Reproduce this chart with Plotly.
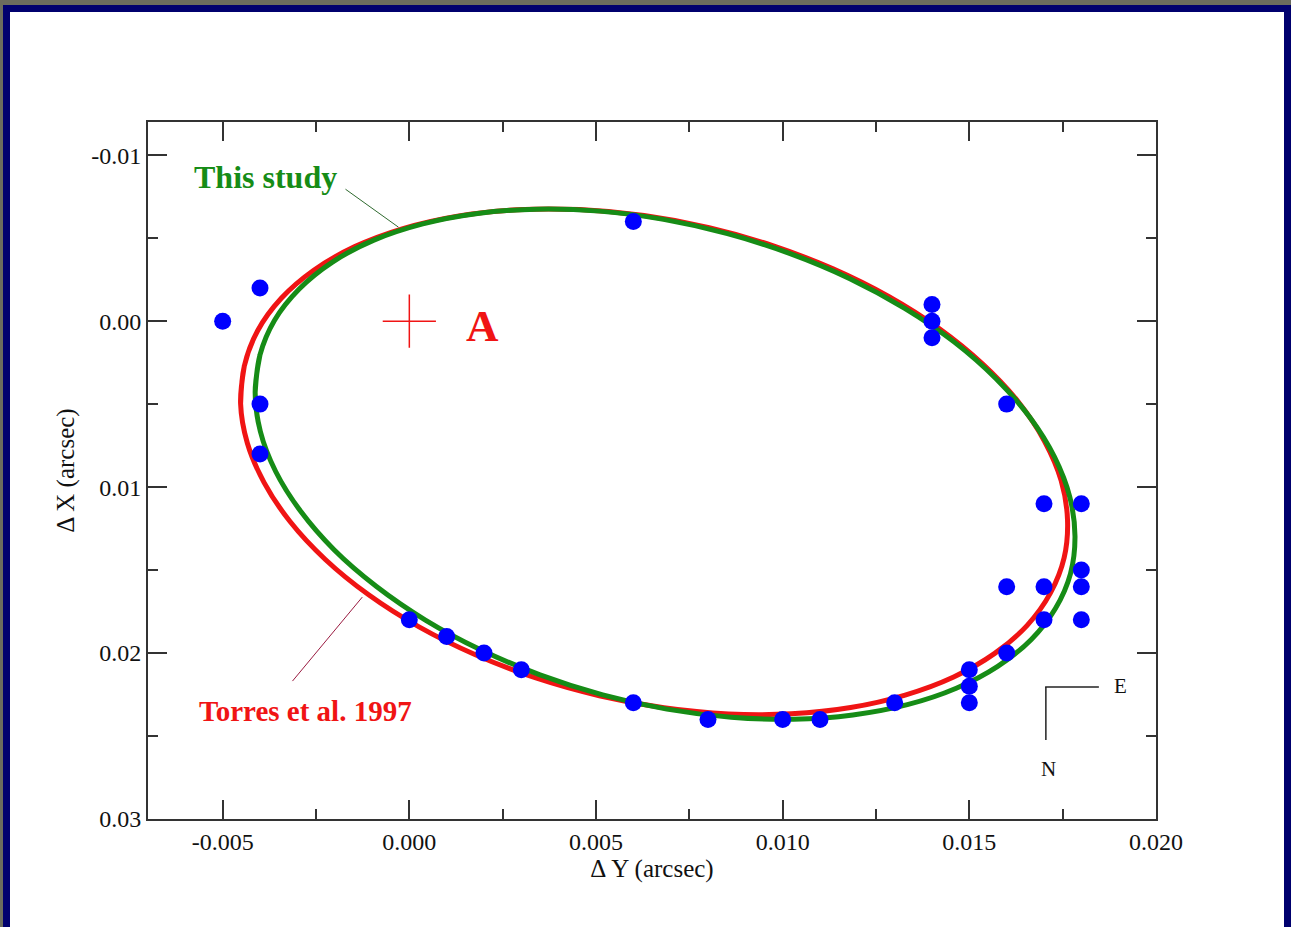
import plotly.graph_objects as go

# ---------------- data ----------------
# observed relative positions (arcsec)
obs_dy = [-0.005, -0.004, -0.004, -0.004, 0.006, 0.014, 0.014, 0.014, 0.016,
          0.017, 0.018, 0.018, 0.018, 0.016, 0.017, 0.017, 0.018, 0.016,
          0.015, 0.015, 0.015, 0.013, 0.011, 0.010, 0.008, 0.006, 0.003,
          0.002, 0.001, 0.000]
obs_dx = [0.000, -0.002, 0.005, 0.008, -0.006, -0.001, 0.000, 0.001, 0.005,
          0.011, 0.011, 0.015, 0.016, 0.016, 0.016, 0.018, 0.018, 0.020,
          0.021, 0.022, 0.023, 0.023, 0.024, 0.024, 0.024, 0.023, 0.021,
          0.020, 0.019, 0.018]

# orbit: "This study"
study_dy = [-0.00413, -0.00400, -0.00361, -0.00295, -0.00206, -0.00095, 0.00036,
            0.00183, 0.00341, 0.00509, 0.00681, 0.00852, 0.01020, 0.01180,
            0.01327, 0.01459, 0.01571, 0.01662, 0.01728, 0.01769, 0.01783,
            0.01771, 0.01731, 0.01666, 0.01576, 0.01465, 0.01334, 0.01188,
            0.01029, 0.00862, 0.00690, 0.00518, 0.00350, 0.00191, 0.00043,
            -0.00088, -0.00201, -0.00291, -0.00358, -0.00399]
study_dx = [0.00429, 0.00203, -0.00006, -0.00194, -0.00356, -0.00488, -0.00586,
            -0.00649, -0.00675, -0.00663, -0.00613, -0.00527, -0.00407, -0.00256,
            -0.00077, 0.00125, 0.00346, 0.00579, 0.00818, 0.01059, 0.01296,
            0.01521, 0.01730, 0.01918, 0.02080, 0.02212, 0.02311, 0.02373,
            0.02399, 0.02387, 0.02338, 0.02252, 0.02131, 0.01980, 0.01801,
            0.01599, 0.01379, 0.01146, 0.00906, 0.00665]

# orbit: Torres et al. 1997
torres_dy = [-0.00452, -0.00442, -0.00406, -0.00343, -0.00256, -0.00146, -0.00017,
             0.00129, 0.00288, 0.00456, 0.00629, 0.00803, 0.00973, 0.01135,
             0.01285, 0.01420, 0.01536, 0.01631, 0.01701, 0.01746, 0.01763,
             0.01754, 0.01717, 0.01655, 0.01568, 0.01458, 0.01328, 0.01182,
             0.01023, 0.00855, 0.00682, 0.00509, 0.00339, 0.00177, 0.00026,
             -0.00109, -0.00225, -0.00319, -0.00389, -0.00434]
torres_dx = [0.00497, 0.00270, 0.00056, -0.00138, -0.00307, -0.00449, -0.00558,
             -0.00633, -0.00671, -0.00672, -0.00636, -0.00563, -0.00455, -0.00315,
             -0.00147, 0.00046, 0.00259, 0.00486, 0.00722, 0.00961, 0.01197,
             0.01425, 0.01639, 0.01833, 0.02002, 0.02144, 0.02253, 0.02328,
             0.02366, 0.02367, 0.02330, 0.02257, 0.02150, 0.02010, 0.01842,
             0.01649, 0.01436, 0.01209, 0.00973, 0.00734]

# primary star A
star_dy = [0.0]
star_dx = [0.0]

# ticks
x_tickvals = [-0.005, 0.000, 0.005, 0.010, 0.015, 0.020]
x_ticktext = ["-0.005", "0.000", "0.005", "0.010", "0.015", "0.020"]
y_tickvals = [-0.01, 0.00, 0.01, 0.02, 0.03]
y_ticktext = ["-0.01", "0.00", "0.01", "0.02", "0.03"]

# ---------------- figure ----------------
W, H = 1291, 927
L, R, T, B = 148, 1156, 122, 819
SERIF = "Liberation Serif, Times New Roman, serif"
RED = "#f01414"
GREEN = "#168c16"


def px(xp):
    return (xp - L) / (R - L)


def py(yp):
    return 1 - (yp - T) / (B - T)


def closed(a):
    return list(a) + list(a[:2])


fig = go.Figure()

fig.add_trace(go.Scatter(
    x=closed(torres_dy), y=closed(torres_dx), mode="lines",
    line=dict(color=RED, width=5, shape="spline", smoothing=1.0),
    hoverinfo="skip"))
fig.add_trace(go.Scatter(
    x=closed(study_dy), y=closed(study_dx), mode="lines",
    line=dict(color=GREEN, width=5, shape="spline", smoothing=1.0),
    hoverinfo="skip"))
fig.add_trace(go.Scatter(
    x=obs_dy, y=obs_dx, mode="markers",
    marker=dict(color="#0000ff", size=17, line=dict(width=0))))
fig.add_trace(go.Scatter(
    x=star_dy, y=star_dx, mode="markers",
    marker=dict(symbol="cross-thin", size=38, line=dict(color=RED, width=1.5))))

shapes = [
    # grey strips, navy frame, white page
    dict(type="rect", xref="paper", yref="paper", layer="below",
         x0=px(0), x1=px(W), y0=py(0), y1=py(H),
         fillcolor="#6b6c5e", line=dict(width=0)),
    dict(type="rect", xref="paper", yref="paper", layer="below",
         x0=px(3), x1=px(W), y0=py(5), y1=py(H),
         fillcolor="#00006e", line=dict(width=0)),
    dict(type="rect", xref="paper", yref="paper", layer="below",
         x0=px(10), x1=px(1284), y0=py(12), y1=py(H),
         fillcolor="white", line=dict(width=0)),
    # label pointer lines
    dict(type="line", xref="x", yref="y", x0=-0.00171, y0=-0.00795,
         x1=-0.00029, y1=-0.00566, line=dict(color="#2f6a2f", width=1)),
    dict(type="line", xref="x", yref="y", x0=-0.00313, y0=0.02169,
         x1=-0.00126, y1=0.01663, line=dict(color="#9a1a40", width=1)),
    # compass
    dict(type="line", xref="x", yref="y", x0=0.01703, y0=0.02205,
         x1=0.01847, y1=0.02205, line=dict(color="#222", width=1.5)),
    dict(type="line", xref="x", yref="y", x0=0.01705, y0=0.02205,
         x1=0.01705, y1=0.02524, line=dict(color="#222", width=1.5)),
]

annotations = [
    dict(x=-0.00386, y=-0.00867, xref="x", yref="y", text="<b>This study</b>",
         showarrow=False, font=dict(family=SERIF, size=32, color=GREEN)),
    dict(x=-0.00278, y=0.02349, xref="x", yref="y", text="<b>Torres et al. 1997</b>",
         showarrow=False, font=dict(family=SERIF, size=29, color=RED)),
    dict(x=0.00195, y=0.0003, xref="x", yref="y", text="<b>A</b>",
         showarrow=False, font=dict(family=SERIF, size=45, color=RED)),
    dict(x=0.01904, y=0.02199, xref="x", yref="y", text="E",
         showarrow=False, font=dict(family=SERIF, size=21, color="#111")),
    dict(x=0.01713, y=0.02699, xref="x", yref="y", text="N",
         showarrow=False, font=dict(family=SERIF, size=21, color="#111")),
]

axis_common = dict(
    showline=True, linecolor="#333", linewidth=2, mirror="ticks",
    ticks="inside", ticklen=19, tickwidth=1.5, tickcolor="#333",
    showgrid=False, zeroline=False,
    tickfont=dict(family=SERIF, size=24, color="#111"),
)

fig.update_layout(
    width=W, height=H,
    margin=dict(l=L, r=W - R, t=T, b=H - B),
    paper_bgcolor="#00006e", plot_bgcolor="white",
    showlegend=False,
    shapes=shapes, annotations=annotations,
    xaxis=dict(
        range=[-0.007, 0.020], tickvals=x_tickvals, ticktext=x_ticktext,
        minor=dict(ticks="inside", ticklen=10, tickwidth=1.5, tickcolor="#333",
                   dtick=0.0025, tick0=0),
        title=dict(text="Δ Y (arcsec)", standoff=5,
                   font=dict(family=SERIF, size=25, color="#111")),
        **axis_common),
    yaxis=dict(
        range=[0.03, -0.012], tickvals=y_tickvals, ticktext=y_ticktext,
        minor=dict(ticks="inside", ticklen=10, tickwidth=1.5, tickcolor="#333",
                   dtick=0.005, tick0=0),
        title=dict(text="Δ X (arcsec)", standoff=9,
                   font=dict(family=SERIF, size=25, color="#111")),
        **axis_common),
)

fig.write_html(
    "out.html",
    config={"displayModeBar": False},
    post_script="document.body.style.margin='0';document.body.style.padding='0';"
                "document.body.style.overflow='hidden';",
)
